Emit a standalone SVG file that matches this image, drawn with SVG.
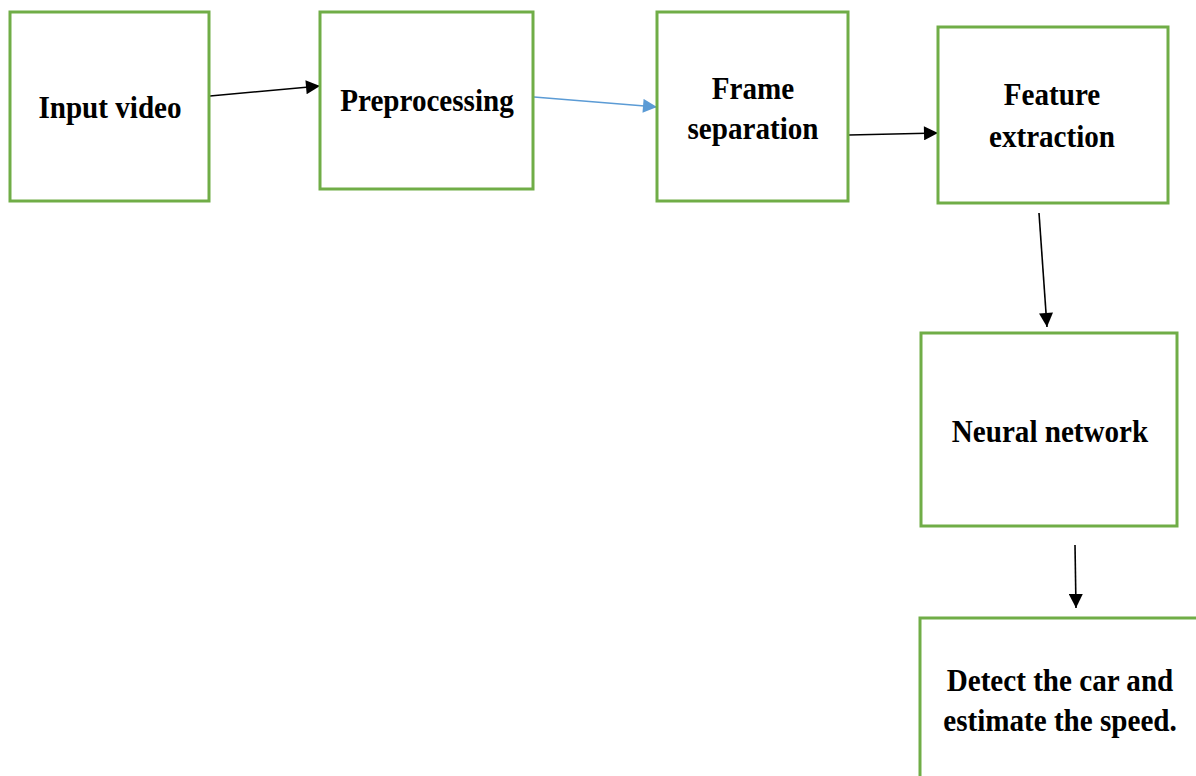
<svg xmlns="http://www.w3.org/2000/svg" width="1196" height="776" viewBox="0 0 1196 776">
<style>
.box{fill:#fff;stroke:#70ad47;stroke-width:3}
.lbl{font-family:"Liberation Serif","Times New Roman",serif;font-weight:bold;font-size:32px;fill:#000;text-anchor:middle}
.k{stroke:#000;stroke-width:1.6;fill:none}
.b{stroke:#5b9bd5;stroke-width:1.6;fill:none}
</style>
<defs>
<marker id="ak" viewBox="0 0 10 10" refX="10" refY="5" markerWidth="15" markerHeight="14" markerUnits="userSpaceOnUse" orient="auto"><path d="M0,0 L10,5 L0,10 z" fill="#000"/></marker>
<marker id="ab" viewBox="0 0 10 10" refX="10" refY="5" markerWidth="15" markerHeight="14" markerUnits="userSpaceOnUse" orient="auto"><path d="M0,0 L10,5 L0,10 z" fill="#5b9bd5"/></marker>
</defs>
<rect width="1196" height="776" fill="#fff"/>
<g id="connectors">
<line class="k" x1="210" y1="96" x2="320" y2="86" marker-end="url(#ak)"/>
<line class="b" x1="534" y1="97" x2="657" y2="107" marker-end="url(#ab)"/>
<line class="k" x1="849" y1="135" x2="938" y2="133" marker-end="url(#ak)"/>
<line class="k" x1="1039" y1="213" x2="1047" y2="327" marker-end="url(#ak)"/>
<line class="k" x1="1075" y1="545" x2="1076" y2="608" marker-end="url(#ak)"/>
</g>
<g id="n1"><rect class="box" x="10" y="12" width="199" height="189"/><text class="lbl" transform="translate(110,118) scale(0.91,1)">Input video</text></g>
<g id="n2"><rect class="box" x="320" y="12" width="213" height="177"/><text class="lbl" transform="translate(427,111) scale(0.91,1)">Preprocessing</text></g>
<g id="n3"><rect class="box" x="657" y="12" width="191" height="189"/><text class="lbl" transform="translate(753,99) scale(0.91,1)">Frame</text><text class="lbl" transform="translate(753,139) scale(0.91,1)">separation</text></g>
<g id="n4"><rect class="box" x="938" y="27" width="230" height="176"/><text class="lbl" transform="translate(1052,105) scale(0.91,1)">Feature</text><text class="lbl" transform="translate(1052,147) scale(0.91,1)">extraction</text></g>
<g id="n5"><rect class="box" x="921" y="333" width="256" height="193"/><text class="lbl" transform="translate(1050,442) scale(0.91,1)">Neural network</text></g>
<g id="n6"><rect class="box" x="920" y="618" width="290" height="170"/><text class="lbl" transform="translate(1060,691) scale(0.91,1)">Detect the car and</text><text class="lbl" transform="translate(1060,731) scale(0.91,1)">estimate the speed.</text></g>
</svg>
